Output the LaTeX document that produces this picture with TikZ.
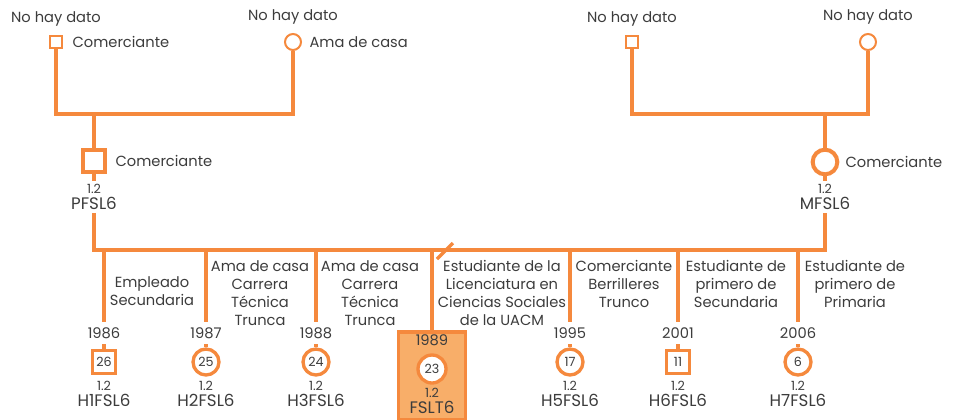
\documentclass[tikz,border=0pt]{standalone}
\usepackage{fontspec}
\setmainfont{Poppins}
\usetikzlibrary{positioning}
\definecolor{orng}{HTML}{F5893D}
\definecolor{lorng}{HTML}{F8AE69}
\definecolor{txt}{HTML}{3C3C3C}

\begin{document}
\begin{tikzpicture}[x=0.75pt,y=-0.75pt,
  every node/.style={text=txt,font=\fontsize{11}{13.5}\selectfont,inner sep=1pt},
  lin/.style={draw=orng,line width=3.5pt},
  gsq/.style={draw=orng,fill=white,line width=1.5pt,minimum size=9pt,inner sep=0pt},
  gci/.style={circle,draw=orng,fill=white,line width=1.5pt,minimum size=12pt,inner sep=0pt},
  psq/.style={draw=orng,fill=white,line width=3pt,minimum size=17pt,inner sep=0pt},
  pci/.style={circle,draw=orng,fill=white,line width=3pt,minimum size=18.5pt,inner sep=0pt},
  csq/.style={draw=orng,fill=white,line width=2.5pt,minimum size=17.5pt,inner sep=0pt,font=\fontsize{9.5}{10}\selectfont},
  cci/.style={circle,draw=orng,fill=white,line width=2.5pt,minimum size=19.5pt,inner sep=0pt,font=\fontsize{9.5}{10}\selectfont},
  cid/.style={align=center,font=\fontsize{12.5}{12.5}\selectfont,inner sep=1pt},
  yr/.style={inner xsep=1pt,inner ysep=4pt},
  lab/.style={align=center}]
  \useasboundingbox (0,0) rectangle (954,419);

  % abuelos
  \node[gsq] (pgpa) at (56,42) {};\node[gci] (pgma) at (293,42) {};
  \node[gsq] (mgpa) at (632,42) {};\node[gci] (mgma) at (868,42) {};
  \node[above=5pt of pgpa] (pgpat) {No hay dato};\node[above=5pt of pgma] (pgmat) {No hay dato};
  \node[above=5pt of mgpa] (mgpat) {No hay dato};\node[above=5pt of mgma] (mgmat) {No hay dato};
  \node[right=6pt of pgpa] (pgpao) {Comerciante};\node[right=4.5pt of pgma] (pgmao) {Ama de casa};

  % padres
  \node[psq] (pa) at (94,161) {};\node[pci] (ma) at (825,162) {};
  \node[right=5pt of pa] (pao) {Comerciante};\node[right=3.5pt of ma] (mao) {Comerciante};
  \node[cid,inner ysep=2pt] (paid) at (94,197) {{\fontsize{9.5}{10}\selectfont 1.2}\\PFSL6};
  \node[cid,inner ysep=2pt] (maid) at (825,197) {{\fontsize{9.5}{10}\selectfont 1.2}\\MFSL6};

  \coordinate (pc) at (94,114);\coordinate (mc) at (825,114);
  \draw[lin] (pgpa.south) |- (pc) -| (pgma.south);\draw[lin] (pc) -- (pa.north);
  \draw[lin] (mgpa.south) |- (mc) -| (mgma.south);\draw[lin] (mc) -- (ma.north);
  \draw[lin] (pa.south) -- (paid.north);\draw[lin] (ma.south) -- (maid.north);

  % hijos
  \coordinate (sL) at (94,250);\coordinate (sR) at (825,250);
  \draw[lin] (paid.south) -- (sL) -- (sR) -- (maid.south);
  \coordinate (d1) at (104,250);\coordinate (d2) at (206,250);\coordinate (d3) at (316,250);\coordinate (d4) at (432,250);
  \coordinate (d5) at (570,250);\coordinate (d6) at (678,250);\coordinate (d7) at (798,250);

  \node[fill=lorng,draw=orng,line width=2.5pt,minimum width=50pt,minimum height=66pt] (ego) at (432,376) {};

  \node[yr] (y1) at (104,333) {1986};\node[yr] (y2) at (206,333) {1987};\node[yr] (y3) at (316,333) {1988};\node (y4) at (432,340) {1989};
  \node[yr] (y5) at (570,333) {1995};\node[yr] (y6) at (678,333) {2001};\node[yr] (y7) at (798,333) {2006};

  \node[csq] (h1) at (104,362) {26};\node[cci] (h2) at (206,362) {25};\node[cci] (h3) at (316,362) {24};
  \node[cci,minimum size=21pt] (h4) at (432,369) {23};\node[cci] (h5) at (570,362) {17};
  \node[csq] (h6) at (678,362) {11};\node[cci] (h7) at (798,362) {6};

  \node[cid] (h1id) at (104,394) {{\fontsize{9.5}{10}\selectfont 1.2}\\H1FSL6};\node[cid] (h2id) at (206,394) {{\fontsize{9.5}{10}\selectfont 1.2}\\H2FSL6};
  \node[cid] (h3id) at (316,394) {{\fontsize{9.5}{10}\selectfont 1.2}\\H3FSL6};\node[cid] (h4id) at (432,401) {{\fontsize{9.5}{10}\selectfont 1.2}\\FSLT6};
  \node[cid] (h5id) at (570,394) {{\fontsize{9.5}{10}\selectfont 1.2}\\H5FSL6};\node[cid] (h6id) at (678,394) {{\fontsize{9.5}{10}\selectfont 1.2}\\H6FSL6};
  \node[cid] (h7id) at (798,394) {{\fontsize{9.5}{10}\selectfont 1.2}\\H7FSL6};

  \draw[lin] (d1) -- (y1.north);\draw[lin] (d2) -- (y2.north);\draw[lin] (d3) -- (y3.north);\draw[lin] (d4) -- (ego.north);
  \draw[lin] (d5) -- (y5.north);\draw[lin] (d6) -- (y6.north);\draw[lin] (d7) -- (y7.north);
  \draw[lin] (y1.south) -- (h1.north);\draw[lin] (y2.south) -- (h2.north);\draw[lin] (y3.south) -- (h3.north);
  \draw[lin] (y5.south) -- (h5.north);\draw[lin] (y6.south) -- (h6.north);\draw[lin] (y7.south) -- (h7.north);

  \coordinate (sl1) at (437,259);\coordinate (sl2) at (453,243);
  \draw[orng,line width=2.5pt] (sl1) -- (sl2);

  \node[lab] (o1) at (152,291) {Empleado\\Secundaria};
  \node[lab] (o2) at (260,293) {Ama de casa\\Carrera\\Técnica\\Trunca};
  \node[lab] (o3) at (370,293) {Ama de casa\\Carrera\\Técnica\\Trunca};
  \node[lab] (o4) at (502,293) {Estudiante de la\\Licenciatura en\\Ciencias Sociales\\de la UACM};
  \node[lab] (o5) at (624,284) {Comerciante\\Berrilleres\\Trunco};
  \node[lab] (o6) at (736,284) {Estudiante de\\primero de\\Secundaria};
  \node[lab] (o7) at (855,284) {Estudiante de\\primero de\\Primaria};
\end{tikzpicture}
\end{document}
